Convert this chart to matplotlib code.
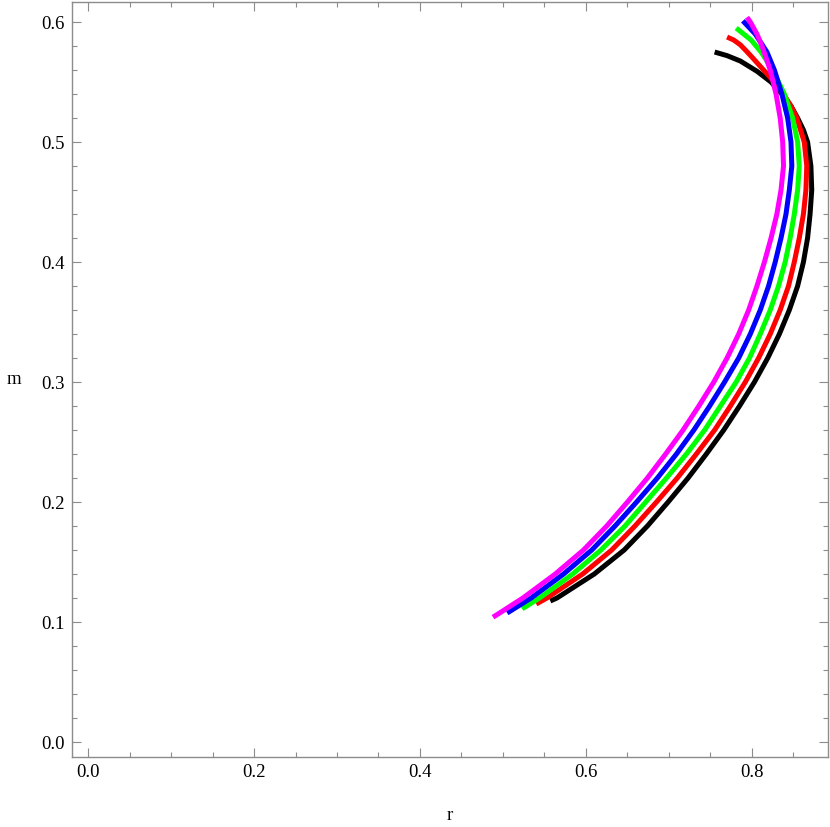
import numpy as np
import matplotlib
matplotlib.use('Agg')
from matplotlib import pyplot as plt
from matplotlib.ticker import MultipleLocator

# curves, bottom end -> top end
r_black = [0.557, 0.565, 0.610, 0.646, 0.674, 0.699, 0.723, 0.745, 0.766, 0.785, 0.803, 0.819, 0.833, 0.845, 0.855, 0.862, 0.867, 0.870, 0.872, 0.871, 0.867, 0.862, 0.855, 0.847, 0.836, 0.823, 0.806, 0.786, 0.770, 0.755]
m_black = [0.1175, 0.12, 0.14, 0.16, 0.18, 0.20, 0.22, 0.24, 0.26, 0.28, 0.30, 0.32, 0.34, 0.36, 0.38, 0.40, 0.42, 0.44, 0.46, 0.48, 0.50, 0.51, 0.52, 0.53, 0.54, 0.55, 0.559, 0.5675, 0.572, 0.575]

r_red = [0.540, 0.553, 0.596, 0.631, 0.659, 0.685, 0.710, 0.733, 0.755, 0.774, 0.792, 0.808, 0.822, 0.834, 0.844, 0.851, 0.857, 0.862, 0.865, 0.866, 0.863, 0.854, 0.847, 0.838, 0.827, 0.814, 0.801, 0.793, 0.786, 0.778, 0.770]
m_red = [0.115, 0.12, 0.14, 0.16, 0.18, 0.20, 0.22, 0.24, 0.26, 0.28, 0.30, 0.32, 0.34, 0.36, 0.38, 0.40, 0.42, 0.44, 0.46, 0.48, 0.50, 0.52, 0.53, 0.54, 0.55, 0.56, 0.57, 0.576, 0.581, 0.585, 0.5875]

r_green = [0.523, 0.544, 0.584, 0.618, 0.647, 0.672, 0.697, 0.721, 0.743, 0.762, 0.781, 0.797, 0.810, 0.822, 0.832, 0.840, 0.846, 0.851, 0.855, 0.857, 0.855, 0.849, 0.839, 0.825, 0.811, 0.799, 0.781]
m_green = [0.111, 0.12, 0.14, 0.16, 0.18, 0.20, 0.22, 0.24, 0.26, 0.28, 0.30, 0.32, 0.34, 0.36, 0.38, 0.40, 0.42, 0.44, 0.46, 0.48, 0.50, 0.52, 0.54, 0.56, 0.575, 0.585, 0.595]

r_blue = [0.505, 0.534, 0.573, 0.607, 0.635, 0.661, 0.686, 0.709, 0.730, 0.749, 0.767, 0.784, 0.798, 0.810, 0.820, 0.828, 0.835, 0.841, 0.845, 0.848, 0.847, 0.843, 0.836, 0.827, 0.818, 0.804, 0.789]
m_blue = [0.1075, 0.12, 0.14, 0.16, 0.18, 0.20, 0.22, 0.24, 0.26, 0.28, 0.30, 0.32, 0.34, 0.36, 0.38, 0.40, 0.42, 0.44, 0.46, 0.48, 0.50, 0.52, 0.54, 0.56, 0.575, 0.59, 0.601]

r_mag = [0.488, 0.524, 0.563, 0.597, 0.625, 0.650, 0.674, 0.696, 0.717, 0.736, 0.754, 0.770, 0.784, 0.796, 0.806, 0.815, 0.823, 0.830, 0.835, 0.838, 0.837, 0.834, 0.829, 0.822, 0.812, 0.806, 0.798, 0.794]
m_mag = [0.104, 0.12, 0.14, 0.16, 0.18, 0.20, 0.22, 0.24, 0.26, 0.28, 0.30, 0.32, 0.34, 0.36, 0.38, 0.40, 0.42, 0.44, 0.46, 0.48, 0.50, 0.52, 0.54, 0.56, 0.58, 0.59, 0.60, 0.604]

curves = [(r_black, m_black, 'black'), (r_red, m_red, 'red'), (r_green, m_green, '#00ff00'),
          (r_blue, m_blue, 'blue'), (r_mag, m_mag, 'magenta')]

plt.rcParams['font.family'] = ['Liberation Serif', 'DejaVu Serif']

fig = plt.figure(figsize=(8.3, 8.27), dpi=100)
ax = fig.add_axes([72/830., 1 - 757/827., 756/830., 755/827.])

for r, m, col in curves:
	ax.plot(r, m, color=col, lw=3.6, solid_capstyle='butt', solid_joinstyle='round')

ax.set_xlim(-0.0193, 0.8916)
ax.set_ylim(-0.0125, 0.6167)

ax.xaxis.set_major_locator(MultipleLocator(0.2))
ax.xaxis.set_minor_locator(MultipleLocator(0.05))
ax.yaxis.set_major_locator(MultipleLocator(0.1))
ax.yaxis.set_minor_locator(MultipleLocator(0.02))
ax.xaxis.set_major_formatter(plt.FormatStrFormatter('%.1f'))
ax.yaxis.set_major_formatter(plt.FormatStrFormatter('%.1f'))

fc = '#8c8c8c'
for s in ax.spines.values():
	s.set_color(fc)
	s.set_linewidth(1.0)
ax.tick_params(which='both', direction='in', color=fc, top=True, right=True, labelsize=13.5, width=0.8)
ax.tick_params(which='major', length=6.5, pad=5)
ax.tick_params(which='minor', length=3.5)

ax.set_xlabel('r', fontsize=13.5)
ax.set_ylabel('m', fontsize=13.5, rotation=0)
ax.xaxis.set_label_coords(0.5, -0.077)
ax.yaxis.set_label_coords(-0.077, 0.5)
ax.xaxis.label.set_va('center')
ax.yaxis.label.set_va('center')

fig.savefig('out.png', dpi=100)
